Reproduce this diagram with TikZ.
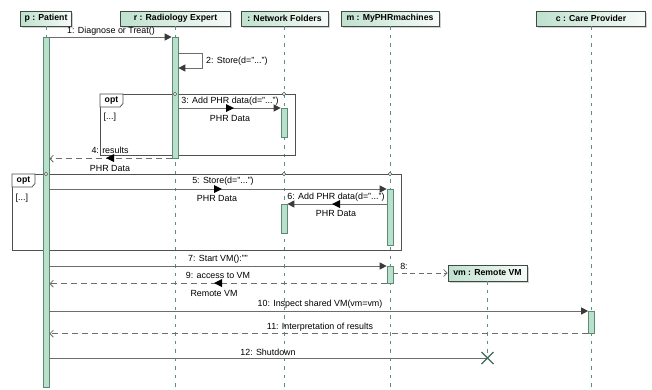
\documentclass[tikz,border=0pt]{standalone}
\usepackage{fontspec}
\setmainfont{Liberation Sans}
\usetikzlibrary{arrows.meta,shadows,calc}
\definecolor{headL}{HTML}{BFE1CE}
\definecolor{headR}{HTML}{F7FBF9}
\definecolor{headdraw}{HTML}{3F4A45}
\definecolor{actfill}{HTML}{B9E0CB}
\definecolor{actdraw}{HTML}{5B8A76}
\definecolor{lifecol}{HTML}{5E8F80}
\definecolor{framecol}{HTML}{505050}
\definecolor{msgcol}{HTML}{6D6D6D}
\definecolor{tipcol}{HTML}{3A3A3A}
\definecolor{xcol}{HTML}{3D6B5A}
\begin{document}
\begin{tikzpicture}[x=1pt,y=-1pt,
  font=\fontsize{8.9}{10}\selectfont,
  head/.style={draw=headdraw, line width=0.7pt, left color=headL, right color=headR,
    font=\fontsize{8.7}{10}\selectfont\bfseries, minimum height=15pt, inner sep=1pt,
    drop shadow={shadow xshift=1.5pt, shadow yshift=-1.5pt, fill=black!35}},
  act/.style={draw=actdraw, fill=actfill, line width=0.7pt, minimum width=6pt, inner sep=0pt, anchor=north},
  life/.style={draw=lifecol, line width=0.9pt, dash pattern=on 3.5pt off 5pt},
  framebox/.style={draw=framecol, line width=0.8pt, inner sep=0pt, anchor=north west},
  circ/.style={circle, draw=framecol, fill=white, line width=0.6pt, minimum size=3.6pt, inner sep=0pt},
  msg/.style={draw=msgcol, line width=1pt, -{Triangle[length=7pt,width=7pt,fill=tipcol,color=tipcol]}},
  ret/.style={draw=msgcol, line width=1pt, dash pattern=on 6pt off 4pt, -{Straight Barb[length=3.5pt,width=7pt,line width=0.8pt]}},
  lbl/.style={inner sep=0pt},
  tokR/.pic={\fill[black] (-4,-4) -- (4,0) -- (-4,4) -- cycle;},
  tokL/.pic={\fill[black] (4,-4) -- (-4,0) -- (4,4) -- cycle;}
]
\useasboundingbox (0,0) rectangle (652,389);
\fill[white] (0,0) rectangle (652,389);

% heads
\node[head, minimum width=51pt] (p) at (46,18.5) {p : Patient};
\node[head, minimum width=110pt] (r) at (175.5,18.5) {r : Radiology Expert};
\node[head, minimum width=87pt] (nf) at (284.5,18.5) {: Network Folders};
\node[head, minimum width=98pt] (m) at (390,18.5) {m : MyPHRmachines};
\node[head, minimum width=109pt] (c) at (591,18.5) {c : Care Provider};
\node[head, minimum width=79pt, minimum height=16pt] (vm) at (487.5,273) {vm : Remote VM};

% lifelines
\coordinate (vmX) at (487.5,358);
\draw[life] (p.south) -- (p.south |- 0,389);
\draw[life] (r.south) -- (r.south |- 0,389);
\draw[life] (nf.south) -- (nf.south |- 0,389);
\draw[life] (m.south) -- (m.south |- 0,389);
\draw[life] (c.south) -- (c.south |- 0,389);
\draw[life] (vm.south) -- (vmX);

% frames
\node[framebox, minimum width=195pt, minimum height=61pt] (f1) at (100,94) {};
\draw[draw=framecol, line width=0.8pt, fill=white] (f1.north west) -- ++(23,0) -- ++(0,9.5) -- ++(-3,3.5) -- ++(-20,0) -- cycle;
\node[lbl, font=\fontsize{8.7}{10}\selectfont\bfseries] (f1t) at (111.5,101) {opt};
\node[lbl, anchor=west] (f1g) at (103.5,117) {[...]};

\node[framebox, minimum width=389pt, minimum height=76pt] (f2) at (12,174) {};
\draw[draw=framecol, line width=0.8pt, fill=white] (f2.north west) -- ++(23,0) -- ++(0,9.5) -- ++(-3,3.5) -- ++(-20,0) -- cycle;
\node[lbl, font=\fontsize{8.7}{10}\selectfont\bfseries] (f2t) at (23.5,181) {opt};
\node[lbl, anchor=west] (f2g) at (15.5,198) {[...]};

% activations
\node[act, minimum height=350pt] (pA) at (46,37) {};
\node[act, minimum height=121pt] (rA) at (175,37) {};
\node[act, minimum height=29pt] (nA1) at (284,108) {};
\node[act, minimum height=56pt] (mA1) at (390,189) {};
\node[act, minimum height=29pt] (nA2) at (284,204) {};
\node[act, minimum height=17pt] (mA2) at (390,266) {};
\node[act, minimum height=22pt] (cA) at (591.5,311) {};

% frame/lifeline crossing marks
\node[circ] (c1a) at (175,94) {};
\node[circ] (c1b) at (284,94) {};
\node[circ] (c2a) at (46,174) {};
\node[circ] (c2b) at (284,174) {};
\node[circ] (c2c) at (390,174) {};

% 1
\draw[msg] (pA.north east) -- (rA.north west);
\node[lbl] (l1) at (111,31) {1: Diagnose or Treat()};
% 2
\draw[msg] (rA.east |- 0,53) -- (202,53) -- (202,68) -- (rA.east |- 0,68);
\node[lbl, anchor=west] (l2) at (206,61) {2: Store(d="...")};
% 3
\draw[msg] (rA.east |- nA1.north) -- (nA1.north west);
\node[lbl] (l3) at (230,101) {3: Add PHR data(d="...")};
\pic at (230,108) {tokR};
\node[lbl] (d3) at (230,118.5) {PHR Data};
% 4
\draw[ret] (rA.south west) -- (pA.east |- rA.south);
\node[lbl] (l4) at (110,150.5) {4: results};
\pic at (110,158) {tokL};
\node[lbl] (d4) at (110,168) {PHR Data};
% 5
\draw[msg] (pA.east |- mA1.north) -- (mA1.north west);
\node[lbl] (l5) at (223,181) {5: Store(d="...")};
\pic at (218,189) {tokR};
\node[lbl] (d5) at (217,198) {PHR Data};
% 6
\draw[msg] (mA1.west |- nA2.north) -- (nA2.north east);
\node[lbl] (l6) at (336,197) {6: Add PHR data(d="...")};
\pic at (336,204) {tokL};
\node[lbl] (d6) at (336,213) {PHR Data};
% 7
\draw[msg] (pA.east |- mA2.north) -- (mA2.north west);
\node[lbl] (l7) at (218,259.5) {7: Start VM():""};
% 8
\draw[draw=msgcol, line width=0.9pt, dash pattern=on 5pt off 3.5pt, -{Straight Barb[length=3.5pt,width=7pt,line width=0.8pt]}] (mA2.east |- vm.west) -- (vm.west);
\node[lbl] (l8) at (404,266) {8:};
% 9
\draw[ret] (mA2.south west) -- (pA.east |- mA2.south);
\node[lbl] (l9) at (218,275) {9: access to VM};
\pic at (218,283) {tokL};
\node[lbl] (d9) at (214,293) {Remote VM};
% 10
\draw[msg] (pA.east |- cA.north) -- (cA.north west);
\node[lbl] (l10) at (320,304) {10: Inspect shared VM(vm=vm)};
% 11
\draw[ret] (cA.south west) -- (pA.east |- cA.south);
\node[lbl] (l11) at (320,327) {11: Interpretation of results};
% 12
\draw[draw=msgcol, line width=1pt] (pA.east |- vmX) -- (vmX);
\node[lbl] (l12) at (268,352) {12: Shutdown};
\draw[draw=xcol, line width=1.2pt] ($(vmX)+(-6,-6)$) -- ($(vmX)+(6,6)$) ($(vmX)+(-6,6)$) -- ($(vmX)+(6,-6)$);
\end{tikzpicture}
\end{document}
